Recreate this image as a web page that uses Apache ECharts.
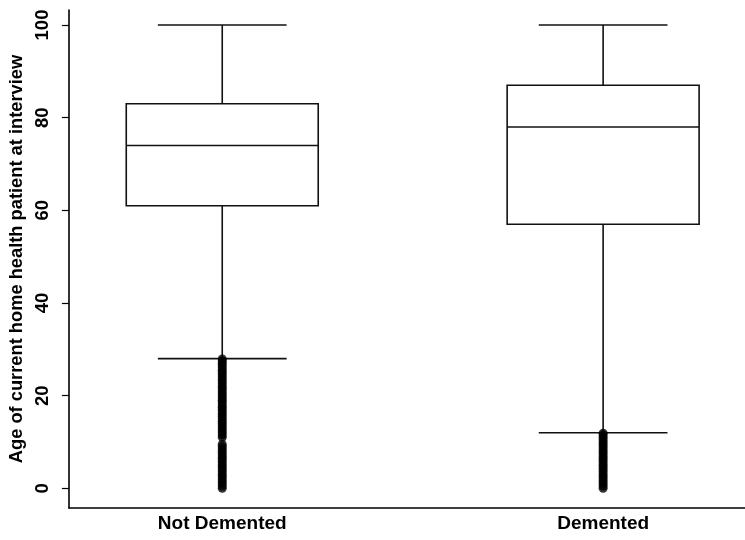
<!DOCTYPE html>
<html>
<head>
<meta charset="utf-8">
<script src="https://cdn.jsdelivr.net/npm/echarts@6/dist/echarts.min.js"></script>
<style>html,body{margin:0;padding:0;background:#fff}#chart{width:745px;height:540px}</style>
</head>
<body>
<div id="chart"></div>
<script>
const categories = ['Not Demented', 'Demented'];
const lowerWhisker = [28, 12];
const q1 = [61, 57];
const median = [74, 78];
const q3 = [83, 87];
const upperWhisker = [100, 100];
const outliersNotDemented = [0, 0.5, 1, 1.5, 2, 2.5, 3, 3.5, 4, 4.5, 5, 5.5, 6, 6.5, 7, 7.5, 8, 8.5, 9, 9.5,
  11, 11.5, 12, 12.5, 13, 13.5, 14, 14.5, 15, 15.5, 16, 16.5, 17, 17.5, 18, 18.5, 19, 19.5, 20, 20.5,
  21, 21.5, 22, 22.5, 23, 23.5, 24, 24.5, 25, 25.5, 26, 26.5, 27, 27.5, 27.9];
const outliersDemented = [0, 0.5, 1, 1.5, 2, 2.5, 3, 3.5, 4, 4.5, 5, 5.5, 6, 6.5, 7, 7.5, 8, 8.5, 9, 9.5,
  10, 10.5, 11, 11.5, 11.9];
const yTicks = [0, 20, 40, 60, 80, 100];
const yTitle = 'Age of current home health patient at interview';

const positions = categories.map((c, i) => i + 1);
const boxData = categories.map((c, i) => [positions[i], lowerWhisker[i], q1[i], median[i], q3[i], upperWhisker[i]]);
const outlierData = []
  .concat(outliersNotDemented.map(v => [positions[0], v]))
  .concat(outliersDemented.map(v => [positions[1], v]));

const FONT = 'Liberation Sans';
const LINE = '#111';
const BOX_HALF = 0.252;
const CAP_HALF = 0.169;

const chart = echarts.init(document.getElementById('chart'), null, {renderer: 'canvas'});
chart.setOption({
  animation: false,
  backgroundColor: '#fff',
  grid: {left: 66, right: 0, top: 10, bottom: 32},
  xAxis: {
    type: 'value', min: 0.5974, max: 2.3725,
    splitLine: {show: false},
    axisLine: {show: true, onZero: false, lineStyle: {color: '#000', width: 1.6}},
    axisTick: {show: false},
    axisLabel: {
      customValues: positions,
      formatter: v => categories[Math.round(v) - 1] || '',
      color: '#000', fontFamily: FONT, fontWeight: 'bold', fontSize: 19, margin: 6
    }
  },
  yAxis: {
    type: 'value', min: -4.25, max: 103.24,
    name: yTitle, nameLocation: 'middle', nameGap: 42,
    nameTextStyle: {color: '#000', fontFamily: FONT, fontWeight: 'bold', fontSize: 18.3},
    splitLine: {show: false},
    axisLine: {show: true, onZero: false, lineStyle: {color: '#000', width: 1.6}},
    axisTick: {show: true, length: 7, customValues: yTicks, lineStyle: {color: '#000', width: 1.2}},
    axisLabel: {
      customValues: yTicks, rotate: 90, margin: 16,
      color: '#000', fontFamily: FONT, fontWeight: 'bold', fontSize: 18.5
    }
  },
  series: [
    {
      type: 'custom',
      data: boxData,
      renderItem: function (params, api) {
        const x = api.value(0);
        const pLow = api.coord([x, api.value(1)]);
        const pQ1 = api.coord([x, api.value(2)]);
        const pMed = api.coord([x, api.value(3)]);
        const pQ3 = api.coord([x, api.value(4)]);
        const pHigh = api.coord([x, api.value(5)]);
        const bx0 = api.coord([x - BOX_HALF, 0])[0];
        const bx1 = api.coord([x + BOX_HALF, 0])[0];
        const cx0 = api.coord([x - CAP_HALF, 0])[0];
        const cx1 = api.coord([x + CAP_HALF, 0])[0];
        const st = {stroke: LINE, lineWidth: 1.6, fill: null};
        return {
          type: 'group',
          children: [
            {type: 'rect', shape: {x: bx0, y: pQ3[1], width: bx1 - bx0, height: pQ1[1] - pQ3[1]}, style: {stroke: LINE, lineWidth: 1.6, fill: '#fff'}},
            {type: 'line', shape: {x1: bx0, y1: pMed[1], x2: bx1, y2: pMed[1]}, style: st},
            {type: 'line', shape: {x1: pQ3[0], y1: pQ3[1], x2: pHigh[0], y2: pHigh[1]}, style: st},
            {type: 'line', shape: {x1: pQ1[0], y1: pQ1[1], x2: pLow[0], y2: pLow[1]}, style: st},
            {type: 'line', shape: {x1: cx0, y1: pHigh[1], x2: cx1, y2: pHigh[1]}, style: st},
            {type: 'line', shape: {x1: cx0, y1: pLow[1], x2: cx1, y2: pLow[1]}, style: st}
          ]
        };
      },
      z: 2
    },
    {
      type: 'scatter',
      data: outlierData,
      symbol: 'circle',
      symbolSize: 9,
      itemStyle: {color: '#000'},
      z: 3
    }
  ]
});
</script>
</body>
</html>
